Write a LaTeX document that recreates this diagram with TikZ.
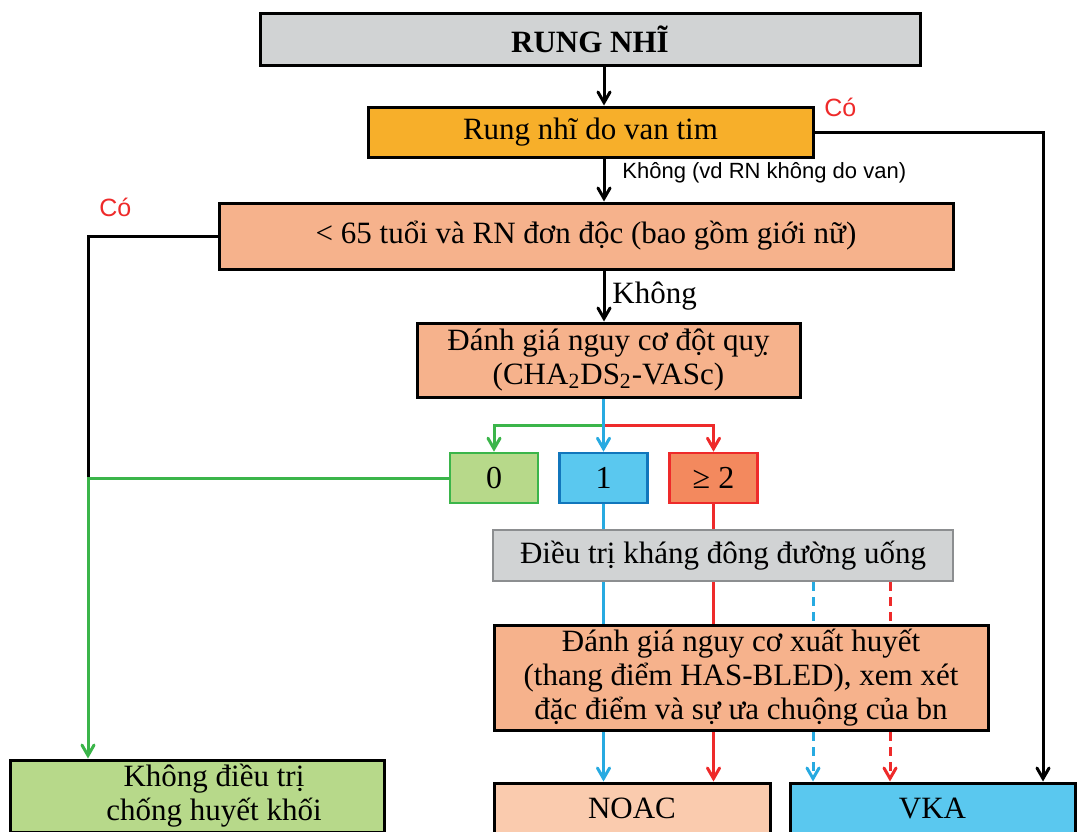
\documentclass[tikz,border=0pt]{standalone}
\usepackage{fontspec}
\setmainfont{Liberation Serif}
\newfontfamily\tagfont{Liberation Sans}
\usepackage{tikz}
\usetikzlibrary{arrows}
\definecolor{boxgray}{HTML}{D1D3D4}
\definecolor{edgegray}{HTML}{8C8E90}
\definecolor{valveorange}{HTML}{F7AF2A}
\definecolor{salmon}{HTML}{F6B28C}
\definecolor{paleSalmon}{HTML}{FACBAE}
\definecolor{skyblue}{HTML}{5AC8EF}
\definecolor{leafgreen}{HTML}{B7D98A}
\definecolor{lineblue}{HTML}{27AAE1}
\definecolor{linered}{HTML}{EE2A2A}
\definecolor{linegreen}{HTML}{3BB54A}
\definecolor{deepblue}{HTML}{1176BC}
\definecolor{scorered}{HTML}{F3895E}

\begin{document}
\begin{tikzpicture}[x=0.5pt,y=-0.5pt,>=angle 60,
        link/.style={line width=1.5pt},
        box/.style={draw,line width=1.5pt,align=center,inner sep=2pt,
          font=\fontsize{15.5}{17}\selectfont},
        score/.style={box,line width=1.3pt,minimum width=44pt,minimum height=25pt,
          font=\fontsize{16}{18}\selectfont},
        tag/.style={anchor=west,inner sep=0pt,text=linered,
          font=\tagfont\fontsize{12.5}{14}\selectfont},
        dashline/.style={link,dash pattern=on 4.5pt off 3pt}]
  \useasboundingbox (0,0) rectangle (1080,831);
  \coordinate (spine) at (604,0);
  \coordinate (leftrail) at (88,0);
  \coordinate (rightrail) at (1043,0);
  \coordinate (split) at (0,425);
  \coordinate (dashB) at (813,0);
  \coordinate (dashR) at (890,0);

  \node[box,fill=boxgray,minimum width=330pt,minimum height=26pt,
    font=\bfseries\fontsize{15.5}{17}\selectfont] (af) at (590,39) {RUNG NHĨ};
  \node[box,fill=valveorange,minimum width=222.5pt,minimum height=25pt] (valve) at (590.5,132) {Rung nhĩ do van tim};
  \node[box,fill=salmon,minimum width=367pt,minimum height=33pt] (young) at (586,236) {< 65 tuổi và RN đơn độc (bao gồm giới nữ)};
  \node[box,fill=salmon,minimum width=191.5pt,minimum height=37pt] (stroke) at (608.5,360) {Đánh giá nguy cơ đột quỵ\\(CHA\textsubscript{2}DS\textsubscript{2}-VASc)};
  \node[score,fill=leafgreen,draw=linegreen] (s0) at (494,478) {0};
  \node[score,fill=skyblue,draw=deepblue] (s1) at (603.5,478) {1};
  \node[score,fill=scorered,draw=linered] (s2) at (713.5,478) {≥ 2};
  \node[box,fill=boxgray,draw=edgegray,line width=1.1pt,minimum width=230pt,minimum height=25.5pt] (oac) at (723,555.5) {Điều trị kháng đông đường uống};
  \node[box,fill=salmon,minimum width=247pt,minimum height=49pt] (bleed) at (741,678) {Đánh giá nguy cơ xuất huyết\\(thang điểm HAS-BLED), xem xét\\đặc điểm và sự ưa chuộng của bn};
  \node[box,fill=leafgreen,minimum width=187pt,minimum height=36pt] (none) at (197,796) {\hspace*{17pt}Không điều trị\\\hspace*{17pt}chống huyết khối};
  \node[box,fill=paleSalmon,minimum width=138pt,minimum height=25pt] (noac) at (632,808) {NOAC};
  \node[box,fill=skyblue,minimum width=142.5pt,minimum height=25pt] (vka) at (932.5,808) {VKA};

  \node[tag] (yes1) at (824,107) {Có};
  \node[tag] (yes2) at (99,207) {Có};
  \node[anchor=west,inner sep=0pt,font=\tagfont\fontsize{11}{13}\selectfont] (no1) at (622,173) {Không (vd RN không do van)};
  \node[anchor=west,inner sep=0pt,font=\fontsize{15.5}{17}\selectfont] (no2) at (612,296) {Không};

  \draw[link,->] (af.south -| spine) -- (valve.north -| spine);
  \draw[link,->] (valve.south -| spine) -- (young.north -| spine);
  \draw[link,->] (young.south -| spine) -- (stroke.north -| spine);
  \draw[link,->] (valve.east) -| (vka.north -| rightrail);
  \draw[link] (young.west) -| (leftrail |- s0.west);
  \draw[link,linegreen,->] (s0.west) -| (none.north -| leftrail);
  \draw[link,linegreen,->] (split -| s1.north) -| (s0.north);
  \draw[link,linered,->] (split -| s1.north) -| (s2.north);
  \draw[link,lineblue,->] (stroke.south -| s1.north) -- (s1.north);
  \draw[link,lineblue,->] (s1.south) -- (oac.north -| s1.south)
    (oac.south -| s1.south) -- (bleed.north -| s1.south)
    (bleed.south -| s1.south) -- (noac.north -| s1.south);
  \draw[link,linered,->] (s2.south) -- (oac.north -| s2.south)
    (oac.south -| s2.south) -- (bleed.north -| s2.south)
    (bleed.south -| s2.south) -- (noac.north -| s2.south);
  \draw[lineblue,dashline,->] (oac.south -| dashB) -- (bleed.north -| dashB)
    (bleed.south -| dashB) -- (vka.north -| dashB);
  \draw[linered,dashline,->] (oac.south -| dashR) -- (bleed.north -| dashR)
    (bleed.south -| dashR) -- (vka.north -| dashR);
\end{tikzpicture}
\end{document}
